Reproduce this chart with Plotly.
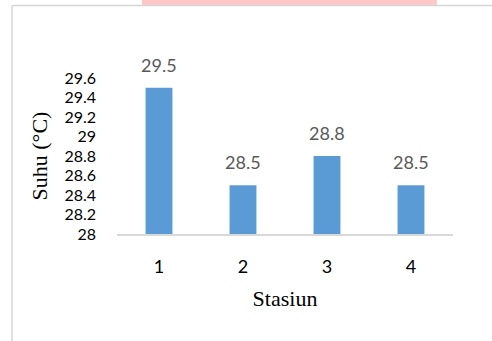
import plotly.graph_objects as go

stasiun = ["1", "2", "3", "4"]
suhu = [29.5, 28.5, 28.8, 28.5]
y_ticks = [28, 28.2, 28.4, 28.6, 28.8, 29, 29.2, 29.4, 29.6]
y_tick_text = ["28", "28.2", "28.4", "28.6", "28.8", "29", "29.2", "29.4", "29.6"]

label_font = dict(family="Lato, Open Sans, sans-serif", size=18, color="#595959")

fig = go.Figure()
fig.add_trace(go.Bar(
    x=stasiun, y=suhu, width=0.32,
    marker=dict(color="#5B9BD5", line=dict(width=0)),
    hoverinfo="skip",
))

# data labels (category index positions on the category axis)
for i, yv in enumerate(suhu):
    fig.add_annotation(x=i, y=yv, text=f"{yv}", showarrow=False,
                       yanchor="bottom", yshift=10, font=label_font)

# document frame and clipped highlight
fig.add_shape(type="rect", xref="paper", yref="paper", x0=0.0744, x1=0.952,
              y0=1.4647, y1=1.52, fillcolor="#FFC7C7", line=dict(width=0), layer="below")
fig.add_shape(type="line", xref="paper", yref="paper", x0=-0.3125, x1=-0.3125,
              y0=-0.7, y1=1.4647, line=dict(color="#D6D6D6", width=1.5))
fig.add_shape(type="line", xref="paper", yref="paper", x0=-0.3125, x1=1.2,
              y0=1.4647, y1=1.4647, line=dict(color="#D6D6D6", width=1.5))

fig.update_layout(
    width=492, height=341,
    margin=dict(l=117, r=39, t=78, b=107),
    paper_bgcolor="white", plot_bgcolor="white",
    showlegend=False,
    xaxis=dict(
        type="category", range=[-0.5, 3.5],
        showline=True, linecolor="#D9D9D9", linewidth=1.5,
        showgrid=False, ticks="", zeroline=False,
        tickfont=dict(family="Lato, Open Sans, sans-serif", size=18, color="#000000"),
        ticklabelstandoff=16,
        title=dict(text="Stasiun", standoff=14,
                   font=dict(family="Liberation Serif, Times New Roman, serif", size=22, color="#000000")),
    ),
    yaxis=dict(
        range=[28, 29.6], tickvals=y_ticks, ticktext=y_tick_text,
        showline=False, showgrid=False, zeroline=False, ticks="",
        tickfont=dict(family="Lato, Open Sans, sans-serif", size=16, color="#000000"),
        ticklabelstandoff=20,
        title=dict(text="Suhu (°C)", standoff=10,
                   font=dict(family="Liberation Serif, Times New Roman, serif", size=22, color="#000000")),
    ),
)

fig.write_html("out.html", config={"displayModeBar": False},
               post_script="document.body.style.margin='0';")
